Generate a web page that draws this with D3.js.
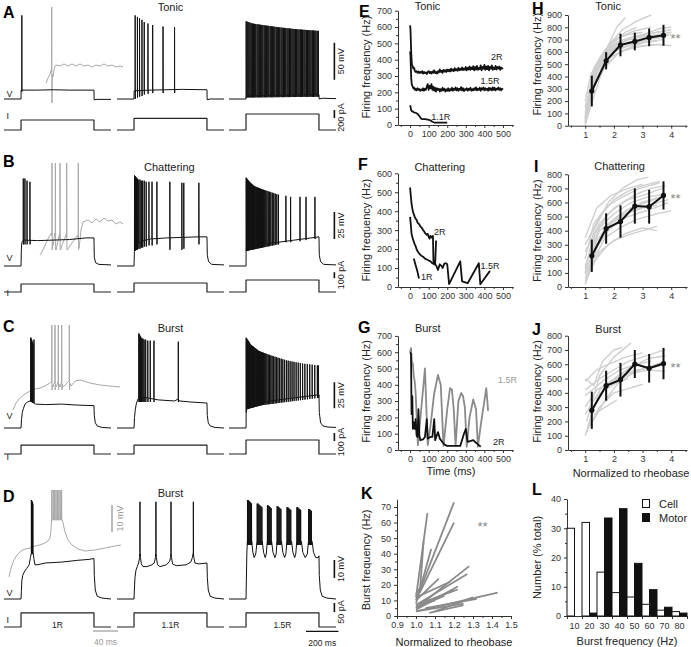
<!DOCTYPE html>
<html><head><meta charset="utf-8">
<script src="https://cdn.jsdelivr.net/npm/d3@7/dist/d3.min.js"></script>
<style>html,body{margin:0;padding:0;background:#fff}svg{display:block}</style>
</head><body>
<svg id="fig" width="691" height="647"></svg>
<script>
const FONT = '"Liberation Sans", Arial, Helvetica, sans-serif';

// ================= DATA =================
// --- sweeps (ms, mV, pA) ---
const sweepWindow = [-105, 555];
const stepWindow = [0, 450];
const sweepLeft = [4, 117, 229];
const stepLabels = ['1R', '1.1R', '1.5R'];

const tonicCurrent = [250, 290, 400];
const chatterCurrent = [133, 150, 200];
const burstCCurrent = [112, 112, 175];
const burstDCurrent = [78, 78, 78];

// Row A: tonic
const tonicPlat1 = [[-105,-70],[0,-70],[0.5,-58],[100,-58],[200,-57.5],[300,-58],[450,-58],[451,-71],[470,-70.5],[555,-70.5]];
const tonicSpk1 = [[5,43,-60]];
const tonicPlat2 = [[-105,-70],[0,-70],[0.5,-59],[100,-58],[300,-57],[450,-57.5],[451,-71],[470,-70],[555,-70]];
const tonicSpkT2 = [7,21,34,49,63,86,115,179,250];
const tonicSpkPk2 = [43,41,39,37,34,32,30,28,27];
const tonicSpkTr2 = [-70,-68,-67,-66,-64,-63,-62,-62,-62];
const tonicPlat3 = [[-105,-70],[0,-70],[0.5,-66],[450,-64],[451,-70],[470,-69],[555,-69.5]];
const tonicSpkT3 = [1,6,12,18,25,32,39,46,53,60,68,75,82,90,97,104,112,119,127,134,141,149,156,164,171,178,186,193,201,208,216,223,231,238,245,253,260,268,275,283,290,297,305,312,320,327,335,342,349,357,364,372,379,387,394,401,409,416,424,431,439,446];
const tonicPeakEnv3 = [[0,35],[40,32],[100,30],[200,27],[300,24.5],[450,22]];
const tonicTroughEnv3 = [[0,-68],[450,-67]];
const tonicInset = [[2,-78],[4,-73],[6,-69],[7.2,-65],[9,-72],[10,-65],[11,-61],[13,-60],[16,-61],[20,-59],[24,-61],[28,-59],[32,-61],[36,-59],[40,-61],[44,-60],[48,-62],[52,-60],[56,-61],[60,-59],[64,-61],[68,-60],[72,-62],[76,-61],[79,-62]];
const tonicInsetSpk = [[7.7,-2,-98]];

// Row B: chattering
const chatPlat1 = [[-105,-70],[0,-70],[2,-55],[5,-48],[15,-46],[100,-46.5],[200,-46],[300,-45.5],[400,-44],[450,-44],[452,-62],[460,-67],[480,-68.5],[555,-69]];
const chatSpk1 = [[14,11,-50],[24,11,-50],[37,9,-50],[55,8,-50]];
const chatPlat2 = [[-105,-70],[0,-70],[2,-58],[5,-52],[15,-50],[50,-47],[100,-45],[200,-44],[300,-43.5],[400,-43],[450,-43],[452,-60],[460,-66],[480,-68.5],[555,-69]];
const chatSpkT2 = [3,9,15,21,29,37,45,53,63,75,92,111,141,221,295,307,400];
const chatSpkPk2 = [14,13,12,11,10,10,9,9,9,8,8,8,8,8,7,7,7];
const chatSpkTr2 = [-56,-56,-55,-55,-54,-54,-53,-53,-52,-52,-51,-51,-50,-55,-55,-54,-50];
const chatPlat3 = [[-105,-70],[0,-70],[1,-52],[10,-55],[50,-52],[100,-50],[200,-48],[300,-46],[400,-44],[450,-43],[452,-60],[460,-66],[480,-68.5],[555,-69]];
const chatSpkT3 = [1,3.5,6,9,12,15,18,21,24,27,31,35,39,43,47,51,56,61,66,71,77,83,89,95,101,108,115,122,129,137,145,153,162,171,180,190,200];
const chatPeakEnv3 = [[0,12],[20,8],[50,4],[100,1],[200,-4]];
const chatTroughEnv3 = [[0,-56],[200,-50]];
const chatSpkLate3 = [[246,-5,-48],[275,-6,-48],[333,-6,-47],[370,-6,-46],[425,-6,-45]];
const chatInset = [[2,-95],[5,-90],[8,-83],[11,-77],[13.5,-73],[15,-86],[16,-78],[17,-73],[18,-90],[19.5,-83],[21.5,-74],[22.6,-90],[24,-85],[26,-80],[28.3,-74],[29.3,-90],[32,-86],[36,-80],[39.8,-75],[41,-88],[42,-80],[43,-70],[45,-62],[50,-60],[54,-63],[58,-59],[62,-62],[66,-58],[70,-61],[74,-60],[78,-64],[82,-62],[85,-64]];
const chatInsetSpk = [[14,-3,-90],[17.4,-3,-90],[22,-3,-90],[28.7,-3,-90],[40.3,-3,-90]];

// Row C: burst
const burstCPlat1 = [[-105,-70],[0,-70],[3,-62],[8,-55],[15,-51],[25,-47],[40,-45],[55,-44],[90,-47],[150,-47.5],[250,-47],[350,-48],[450,-48.5],[452,-58],[458,-65],[470,-68],[500,-69.5],[555,-70]];
const burstCSpk1 = [[60,17,-44],[63,16,-44],[66,15,-44],[70,13,-44],[74,11,-44],[80,15,-45]];
const burstCPlat2 = [[-105,-70],[0,-70],[3,-60],[8,-52],[15,-46],[25,-42],[40,-40],[80,-41],[150,-43],[250,-44],[273,-42],[280,-44],[350,-45],[450,-46],[452,-58],[458,-65],[470,-68],[500,-69.5],[555,-70]];
const burstCSpkT2 = [30,33,36,40,44,49,55,62,72,85,100,123,273];
const burstCSpkPk2 = [21,20,19,18,17,16,16,15,15,14,14,14,13];
const burstCPlat3 = [[-105,-70],[0,-70],[2,-55],[10,-48],[50,-47],[150,-44],[300,-41],[450,-38],[452,-55],[460,-65],[475,-68],[500,-69],[555,-69.5]];
const burstCSpkT3 = [1,4,7,10,13,16,19,22,26,30,34,38,42,46,51,56,61,66,71,77,83,89,95,101,108,115,122,129,137,145,153,161,170,179,188,197,207,217,227,238,249,260,272,284,296,309,322,335,349,363,378,393,408,424,440,447];
const burstCPeakEnv3 = [[0,17],[30,10],[80,4],[150,0],[250,-5],[350,-8],[450,-10]];
const burstCTroughEnv3 = [[0,-52],[100,-48],[250,-45],[450,-41]];
const burstCInset = [[3,-80],[6,-73],[10,-68],[15,-64],[20,-61],[25,-59],[30,-58],[35,-56],[40,-53],[41.5,-52],[43,-57],[44.5,-52],[46.5,-57],[48,-52],[50,-57],[51.5,-52],[53,-57],[56,-54],[59,-51],[61,-56],[65,-51],[70,-50],[80,-53],[90,-55],[100,-56],[110,-57]];
const burstCInsetSpk = [[41.8,5,-60],[45,5,-60],[48.3,5,-60],[51.7,5,-60],[59.3,5,-60]];

// Row D: burst (1R, 1.1R, 1.5R)
const burstDPlat1 = [[-105,-70],[0,-70],[2,-66],[5,-60],[10,-57],[20,-55],[35,-53],[50,-51],[58,-47],[62,-45],[76,-45],[80,-48],[86,-51],[100,-51],[150,-50],[250,-49.5],[350,-48.5],[420,-48],[450,-47.5],[452,-57],[458,-65],[470,-68.5],[500,-69.5],[555,-70]];
const burstDSpk1 = [[64,-15,-44],[67,-15.5,-44],[70,-16,-44],[73,-17,-45]];
const burstDPlat2 = [[-105,-70],[0,-70],[2,-65],[6,-58],[12,-54],[20,-52],[28,-50],[34,-47],[37,-44],[40,-47],[45,-50.5],[55,-52],[80,-52],[110,-51],[125,-50],[132,-47],[135,-44],[138,-47],[145,-51],[160,-52],[200,-51],[220,-49],[225,-47],[228,-44],[231,-47],[238,-50.5],[260,-51.5],[320,-51],[350,-49.5],[360,-47],[366,-44],[369,-47],[376,-50],[400,-50.5],[450,-50],[452,-58],[458,-65],[470,-68.5],[500,-69.5],[555,-70]];
const burstDSpk2 = [[36.7,-16,-46],[135,-16,-46],[228,-16,-46],[366,-16,-46]];
const burstDPlat3 = [[-105,-70],[0,-70],[2,-60],[5,-45],[8,-38],[35,-38],[42,-44],[50,-47],[60,-45],[68,-38],[100,-38],[108,-44],[118,-47],[125,-45],[131,-38],[158,-38],[166,-44],[178,-47],[186,-45],[191,-38],[219,-38],[227,-44],[238,-47],[246,-45],[252,-38],[281,-38],[289,-44],[300,-47],[307,-45],[313,-38],[342,-38],[350,-44],[365,-47],[378,-45],[385,-38],[408,-38],[416,-44],[430,-47],[445,-47],[450,-46],[452,-57],[458,-65],[470,-68.5],[500,-69.5],[555,-70]];
const burstDSpkT3 = [9,14,19,24,29,34,69,74,80,86,92,98,132,137,143,149,155,192,197,203,209,215,253,258,264,270,276,314,319,325,331,337,386,391,397,403];
const burstDSpkPk3 = [-15,-15,-15.5,-16,-16.5,-17,-17,-17,-17.5,-18,-18.5,-19,-18,-18,-18.5,-19,-19.5,-18.5,-18.5,-19,-19.5,-20,-19,-19,-19.5,-20,-20.5,-19,-19,-19.5,-20,-20.5,-20,-20,-20.5,-21];
const burstDInset = [[4,-87],[5,-82],[7,-75],[9,-70],[12,-65],[16,-61],[20,-59],[25,-58],[30,-56],[35,-55],[40,-53],[43,-51],[45,-48],[46,-40],[46.6,-30],[57.2,-30],[58,-33],[60,-42],[63,-50],[67,-55],[73,-59],[80,-61],[90,-60],[100,-58],[110,-56],[116,-55]];
const burstDInsetSpkT = [46.8,48.2,49.6,51,52.4,53.8,55.2,56.6];

// --- E/F/G: instantaneous firing frequency (ms, Hz) ---
const freqTonic2R = [[0,610],[2,590],[4,520],[6,450],[8,400],[10,370],[14,360],[18,345],[22,350],[26,330],[30,325],[35,330],[40,320],[45,328],[50,318],[55,325],[60,320],[65,330],[70,315],[75,325],[80,318],[85,322],[90,312],[95,325],[100,330],[105,318],[110,325],[115,315],[120,328],[125,320],[130,335],[135,318],[140,325],[145,315],[150,330],[155,322],[160,340],[165,325],[170,332],[175,320],[180,338],[185,328],[190,335],[195,325],[200,340],[205,330],[210,338],[215,328],[220,345],[225,332],[230,340],[235,330],[240,348],[245,335],[250,342],[255,332],[260,350],[265,335],[270,345],[275,338],[280,352],[285,336],[290,346],[295,338],[300,355],[305,335],[310,350],[315,340],[320,358],[325,338],[330,352],[335,342],[340,360],[345,335],[350,355],[355,340],[360,362],[365,338],[370,350],[375,342],[380,365],[385,335],[390,355],[395,345],[400,368],[405,338],[410,358],[415,342],[420,362],[425,335],[430,356],[435,345],[440,365],[445,338],[450,352],[455,342],[460,362],[465,340],[470,355],[475,345],[480,358],[485,338],[490,352],[495,345],[500,350]];
const freqTonic15R = [[0,450],[2,430],[4,360],[6,290],[8,260],[10,245],[14,235],[18,225],[22,228],[26,215],[30,222],[35,212],[40,225],[45,215],[50,220],[55,210],[60,218],[65,212],[70,225],[75,210],[80,222],[85,215],[90,235],[95,250],[100,215],[105,240],[110,225],[115,250],[120,215],[125,235],[130,210],[135,228],[140,205],[145,225],[150,215],[155,222],[160,205],[165,220],[170,210],[175,228],[180,212],[185,222],[190,205],[195,218],[200,210],[205,225],[210,208],[215,220],[220,212],[225,228],[230,210],[235,222],[240,215],[245,230],[250,212],[255,225],[260,210],[265,222],[270,215],[275,232],[280,212],[285,225],[290,208],[295,220],[300,215],[305,225],[310,210],[315,222],[320,215],[325,228],[330,210],[335,220],[340,212],[345,225],[350,215],[355,230],[360,212],[365,222],[370,215],[375,228],[380,210],[385,225],[390,218],[395,230],[400,212],[405,225],[410,215],[415,222],[420,210],[425,228],[430,215],[435,225],[440,212],[445,230],[450,215],[455,228],[460,212],[465,222],[470,218],[475,230],[480,215],[485,225],[490,212],[495,222],[500,218]];
const freqTonic11R = [[0,120],[3,110],[6,90],[10,85],[15,82],[20,78],[30,75],[40,68],[50,55],[55,45],[60,38],[70,36],[80,36],[90,35],[100,32],[110,28],[120,20],[130,15],[150,15],[175,15],[200,15]];
const freqChat2R = [[0,525],[4,480],[8,440],[12,415],[16,395],[20,385],[25,370],[30,360],[35,355],[40,340],[45,335],[50,330],[55,320],[60,315],[65,310],[70,300],[75,295],[80,285],[85,280],[90,275],[95,280],[100,265],[105,255],[110,270],[118,260],[123,270],[126,125],[135,120],[140,245]];
const freqChat15R = [[0,370],[4,330],[8,280],[12,265],[16,250],[20,240],[25,225],[30,215],[35,200],[40,190],[50,175],[60,165],[70,160],[80,150],[90,145],[100,140],[110,135],[120,125],[130,120],[140,115],[150,90],[160,120],[170,110],[175,100],[185,125],[195,125],[200,120],[210,15],[270,135],[280,30],[310,20],[370,125],[378,15],[430,85]];
const freqChat1R = [[20,150],[30,115],[40,80],[48,45]];
const freqBurst15R = [[0,600],[5,625],[10,540],[15,530],[20,450],[25,420],[30,350],[42,30],[60,250],[80,500],[95,30],[110,150],[130,350],[150,460],[160,420],[165,400],[180,25],[200,250],[215,380],[225,370],[235,250],[245,25],[260,300],[275,350],[285,330],[295,260],[305,20],[320,200],[340,310],[350,270],[355,250],[365,20],[380,150],[410,380],[420,240]];
const freqBurst2R = [[0,600],[5,590],[8,220],[12,330],[15,130],[20,170],[25,130],[30,190],[35,90],[40,80],[45,250],[50,90],[55,60],[70,65],[80,80],[90,190],[95,70],[110,80],[120,80],[130,190],[135,60],[150,110],[160,70],[180,40],[190,30],[200,25],[250,25],[270,25],[290,100],[300,130],[310,50],[340,60],[370,30],[380,20]];

// --- H/I/J: f-I relations (x normalized to rheobase, Hz) ---
const normLevels = [1.23, 1.73, 2.23, 2.73, 3.23, 3.73];
const tonicMean = [282, 528, 656, 685, 718, 735];
const tonicErr = [125, 70, 92, 72, 72, 85];
const chatMean = [222, 415, 465, 575, 570, 650];
const chatErr = [115, 108, 115, 125, 120, 100];
const burstMean = [278, 450, 492, 602, 572, 605];
const burstErr = [130, 105, 118, 98, 100, 110];
const tonicCells = [
 [[1.0,30],[1.2,300],[1.5,520],[2.0,650],[2.5,700],[3.0,720],[3.5,740],[4.0,760]],
 [[1.0,50],[1.3,400],[1.7,600],[2.1,800],[2.4,880]],
 [[1.05,100],[1.3,450],[1.8,650],[2.3,780],[2.8,850],[3.3,900]],
 [[1.0,20],[1.2,250],[1.6,500],[2.0,600],[2.6,660],[3.2,700],[3.8,720]],
 [[1.0,80],[1.4,450],[1.9,620],[2.5,700],[3.0,740],[3.6,790],[4.0,800]],
 [[1.0,150],[1.3,400],[1.8,580],[2.3,640],[2.9,670],[3.5,690]],
 [[1.0,60],[1.2,350],[1.5,550],[2.0,700],[2.5,740],[3.0,760]],
 [[1.1,120],[1.4,380],[1.9,560],[2.4,620],[3.0,650],[3.6,660],[4.0,650]],
 [[1.0,40],[1.3,320],[1.7,480],[2.2,600],[2.8,640],[3.4,660]],
 [[1.0,200],[1.2,420],[1.6,580],[2.1,680],[2.6,720],[3.2,750],[3.8,770]],
 [[1.05,90],[1.5,500],[2.0,620],[2.5,680],[3.0,700],[4.0,740]],
 [[1.0,100],[1.3,470],[1.7,620],[2.2,720],[2.7,770],[3.3,800]],
 [[1.0,10],[1.25,200],[1.6,450],[2.1,580],[2.6,640],[3.1,680],[3.7,700]],
 [[1.1,250],[1.5,540],[2.0,660],[2.5,700],[3.0,730],[3.5,760],[4.0,780]],
 [[1.0,70],[1.3,380],[1.6,560],[2.0,690],[2.4,760],[2.8,800]],
 [[1.02,130],[1.4,480],[1.8,600],[2.3,660],[2.9,690],[3.5,720],[3.9,740]]
];
const chatCells = [
 [[1.0,20],[1.3,200],[1.7,350],[2.2,420],[2.8,480],[3.5,520],[4.0,540]],
 [[1.0,100],[1.3,400],[1.8,600],[2.3,700],[2.8,760],[3.2,780]],
 [[1.0,300],[1.5,500],[2.0,620],[2.5,680],[3.0,720],[3.6,750]],
 [[1.05,50],[1.4,300],[1.9,450],[2.4,520],[3.0,560],[3.5,580]],
 [[1.0,150],[1.5,400],[2.0,480],[2.6,540],[3.2,580],[3.9,620]],
 [[1.1,80],[1.5,250],[2.0,330],[2.5,370],[3.0,400],[3.5,430]],
 [[1.0,200],[1.3,450],[1.8,580],[2.3,640],[2.9,700],[3.6,740]],
 [[1.0,60],[1.4,280],[1.8,400],[2.2,480],[2.8,520],[3.4,560],[3.9,600]],
 [[1.0,350],[1.4,560],[1.9,650],[2.5,700],[3.0,730]],
 [[1.1,120],[1.6,380],[2.1,500],[2.6,560],[3.1,600],[3.7,640]],
 [[1.0,40],[1.3,180],[1.8,300],[2.4,380],[3.0,420],[3.5,400]],
 [[1.0,250],[1.5,450],[2.0,560],[2.5,620],[3.0,650],[3.7,700]],
 [[1.05,180],[1.5,420],[2.0,520],[2.6,600],[3.2,640],[3.8,660]],
 [[1.0,90],[1.4,330],[1.9,460],[2.4,540],[3.0,600],[3.6,640]],
 [[1.0,130],[1.35,380],[1.8,520],[2.3,600],[2.8,660],[3.3,700],[3.8,720]]
];
const burstCells = [
 [[1.0,100],[1.3,300],[1.7,450],[2.2,520],[2.8,560],[3.4,580],[3.8,600]],
 [[1.0,500],[1.3,450],[1.6,620],[2.0,700],[2.3,720]],
 [[1.05,200],[1.5,520],[2.0,650],[2.6,750]],
 [[1.0,300],[1.4,420],[1.9,480],[2.4,520],[2.9,560],[3.5,600],[3.8,620]],
 [[1.1,150],[1.5,300],[2.0,400],[2.5,430],[3.0,460]],
 [[1.0,420],[1.5,500],[2.0,560],[2.5,620],[3.0,650],[3.6,690],[3.8,700]],
 [[1.2,180],[1.7,350],[2.2,480],[2.7,540],[3.2,560],[3.8,550]],
 [[1.0,250],[1.4,380],[2.0,460],[2.5,500]],
 [[1.3,250],[1.7,300],[2.1,350]],
 [[1.0,380],[1.6,480],[2.2,560],[2.8,600],[3.3,620]],
 [[1.05,120],[1.5,420],[2.0,500],[2.6,580],[3.2,640],[3.8,660]],
 [[1.0,480],[1.4,560],[1.8,600],[2.4,650],[3.0,680]]
];

// --- K: burst frequency vs normalized current (x1, Hz1, x2, Hz2) ---
const kSegments = [[1.00,12,1.06,66],[1.02,15,1.04,48],[1.00,10,1.20,73],[1.02,15,1.20,60],[1.00,8,1.08,43],[1.00,5,1.28,32],[1.00,7,1.27,27],[1.00,4,1.22,19],[1.00,3,1.43,15],[1.00,6,1.20,17],[1.05,5,1.32,11],[1.00,3,1.25,8],[1.10,3,1.30,12],[1.00,10,1.12,24],[1.00,12,1.18,22],[1.07,2,1.25,7],[1.00,5,1.15,13],[1.02,8,1.22,17],[1.00,14,1.03,20],[1.00,6,1.10,10]];

// --- L: burst frequency histogram (% total) ---
const burstBins = ['10','20','30','40','50','60','70','80'];
const cellPct = [30, 32, 15, 8, 6.5, 4, 2, 1.5];
const motorPct = [0, 1, 33.5, 36.7, 18, 9, 3, 1];

// ================= HELPERS =================
const svg = d3.select('#fig');
function lerp(pts, t) {
  if (t <= pts[0][0]) return pts[0][1];
  for (let i = 1; i < pts.length; i++) {
    if (t <= pts[i][0]) { const a = pts[i-1], b = pts[i]; return a[1] + (b[1]-a[1]) * (t-a[0]) / (b[0]-a[0]); }
  }
  return pts[pts.length-1][1];
}
function buildTrace(plat, spikes, k = 1) {
  const pts = plat.map(d => [d[0], d[1]]);
  spikes.forEach(([t, pk, tr]) => {
    pts.push([t-0.4*k, lerp(plat, t-0.4*k)], [t, pk], [t+0.6*k, tr], [t+1.4*k, lerp(plat, t+1.4*k)]);
  });
  pts.sort((a, b) => a[0] - b[0]);
  return pts;
}
function zipSpk(times, peaks, troughs) { return times.map((t, i) => [t, Array.isArray(peaks) ? peaks[i] : peaks, Array.isArray(troughs) ? troughs[i] : troughs]); }
function train(times, peakEnv, troughEnv) { return times.map(t => [t, lerp(peakEnv, t), lerp(troughEnv, t)]); }
function sweepX(i) { return d3.scaleLinear().domain(sweepWindow).range([sweepLeft[i], sweepLeft[i] + 107]); }
function drawPath(pts, xs, ys, color, w) {
  svg.append('path').datum(pts)
    .attr('d', d3.line().x(d => xs(d[0])).y(d => ys(d[1])))
    .attr('fill', 'none').attr('stroke', color).attr('stroke-width', w)
    .attr('stroke-linejoin', 'round').attr('stroke-linecap', 'butt');
}
function currentPts(I) { return [[sweepWindow[0],0],[stepWindow[0],0],[stepWindow[0],I],[stepWindow[1],I],[stepWindow[1],0],[sweepWindow[1],0]]; }
function text(x, y, s, o = {}) {
  const t = svg.append('text').attr('x', x).attr('y', y).text(s)
    .attr('font-family', FONT).attr('font-size', o.size || 9)
    .attr('fill', o.fill || '#222').attr('text-anchor', o.anchor || 'start')
    .attr('font-weight', o.weight || 'normal');
  if (o.rotate) t.attr('transform', `rotate(-90,${x},${y})`);
  return t;
}
function vbar(x, y1, y2, color) {
  svg.append('line').attr('x1', x).attr('x2', x).attr('y1', y1).attr('y2', y2).attr('stroke', color || '#111').attr('stroke-width', 1.6);
}
function hbar(x1, x2, y, color) {
  svg.append('line').attr('x1', x1).attr('x2', x2).attr('y1', y).attr('y2', y).attr('stroke', color || '#111').attr('stroke-width', 1.4);
}
function styleAxis(g) {
  g.attr('font-family', FONT).attr('font-size', 9);
  g.selectAll('text').attr('fill', '#333');
  g.selectAll('line').attr('stroke', '#333');
  g.selectAll('.domain').attr('stroke', '#333');
}
function axisY(scale, x, major, minor, fmt) {
  const g = svg.append('g').attr('transform', `translate(${x},0)`);
  g.call(d3.axisLeft(scale).tickValues(major).tickSize(3).tickSizeOuter(0).tickPadding(3).tickFormat(fmt || d3.format('d')));
  if (minor) { const m = g.append('g').call(d3.axisLeft(scale).tickValues(minor).tickSize(2).tickFormat('')); m.select('.domain').remove(); }
  styleAxis(g);
}
function axisX(scale, y, major, minor, fmt) {
  const g = svg.append('g').attr('transform', `translate(0,${y})`);
  g.call(d3.axisBottom(scale).tickValues(major).tickSize(3).tickSizeOuter(0).tickPadding(2.5).tickFormat(fmt || d3.format('d')));
  if (minor) { const m = g.append('g').call(d3.axisBottom(scale).tickValues(minor).tickSize(2).tickFormat('')); m.select('.domain').remove(); }
  styleAxis(g);
}

// ================= SWEEP ROWS (A-D) =================
const yA = d3.scaleLinear([-70, 50], [99, 10.2]);
const iA = d3.scaleLinear([0, 200], [130, 122]);
const yB = d3.scaleLinear([-70, 20], [266, 168.8]);
const iB = d3.scaleLinear([0, 100], [292, 286]);
const yC = d3.scaleLinear([-70, 30], [428, 324]);
const iC = d3.scaleLinear([0, 100], [454, 446]);
const yD = d3.scaleLinear([-70, -10], [599, 491]);
const iD = d3.scaleLinear([0, 50], [627, 618]);

const rows = [
  { y: yA, i: iA, cur: tonicCurrent, sweeps: [
      buildTrace(tonicPlat1, tonicSpk1),
      buildTrace(tonicPlat2, zipSpk(tonicSpkT2, tonicSpkPk2, tonicSpkTr2)),
      buildTrace(tonicPlat3, train(tonicSpkT3, tonicPeakEnv3, tonicTroughEnv3))] },
  { y: yB, i: iB, cur: chatterCurrent, sweeps: [
      buildTrace(chatPlat1, chatSpk1),
      buildTrace(chatPlat2, zipSpk(chatSpkT2, chatSpkPk2, chatSpkTr2)),
      buildTrace(chatPlat3, train(chatSpkT3, chatPeakEnv3, chatTroughEnv3).concat(chatSpkLate3))] },
  { y: yC, i: iC, cur: burstCCurrent, sweeps: [
      buildTrace(burstCPlat1, burstCSpk1),
      buildTrace(burstCPlat2, zipSpk(burstCSpkT2, burstCSpkPk2, -45)),
      buildTrace(burstCPlat3, train(burstCSpkT3, burstCPeakEnv3, burstCTroughEnv3))] },
  { y: yD, i: iD, cur: burstDCurrent, sweeps: [
      buildTrace(burstDPlat1, burstDSpk1),
      buildTrace(burstDPlat2, burstDSpk2),
      buildTrace(burstDPlat3, zipSpk(burstDSpkT3, burstDSpkPk3, -40))] }
];

// gray insets (magnified spikes)
const GRAY = '#a9a9a9';
const insA = { x: d3.scaleLinear([0, 80], [44, 124]), y: d3.scaleLinear([-98, 0], [103, 5]) };
const insB = { x: d3.scaleLinear([0, 86], [38, 124]), y: d3.scaleLinear([-95, 0], [255, 160]) };
const insC = { x: d3.scaleLinear([0, 110], [10, 120]), y: d3.scaleLinear([-100, 0], [430, 330]) };
const insD = { x: d3.scaleLinear([0, 116], [5, 121]), y: d3.scaleLinear([-100, 0], [590, 490]) };
drawPath(buildTrace(tonicInset, tonicInsetSpk, 0.4), insA.x, insA.y, GRAY, 1);
drawPath(buildTrace(chatInset, chatInsetSpk, 0.4), insB.x, insB.y, GRAY, 1);
drawPath(buildTrace(burstCInset, burstCInsetSpk, 0.4), insC.x, insC.y, GRAY, 1);
drawPath(buildTrace(burstDInset, zipSpk(burstDInsetSpkT, 0, -30), 0.4), insD.x, insD.y, GRAY, 1);

rows.forEach(r => {
  r.sweeps.forEach((pts, k) => {
    const xs = sweepX(k);
    drawPath(pts, xs, r.y, '#111', 1);
    drawPath(currentPts(r.cur[k]), xs, r.i, '#222', 1.2);
  });
});

// labels V / I
const xs0 = sweepX(0), xs1 = sweepX(1), xs2 = sweepX(2);
[[yA, iA, -67.3, 275], [yB, iB, -65, -70], [yC, iC, -61, -80], [yD, iD, -68.5, 25]].forEach(([ys, is, vv, ii]) => {
  text(xs0(-90), ys(vv), 'V', { size: 9 });
  text(xs0(-90), is(ii), 'I', { size: 9 });
});

// scale bars
const xBar = xs2(545), xBarT = xs2(604);
vbar(xBar, yA(-44), yA(6)); vbar(xBar, iA(300), iA(500));
text(xBarT, yA(-19), '50 mV', { rotate: true, anchor: 'middle' });
text(xBarT, iA(310), '200 pA', { rotate: true, anchor: 'middle' });
vbar(xBar, yB(-45), yB(-20)); vbar(xBar, iB(230), iB(330));
text(xBarT, yB(-32.5), '25 mV', { rotate: true, anchor: 'middle' });
text(xBarT, iB(283), '100 pA', { rotate: true, anchor: 'middle' });
vbar(xBar, yC(-51), yC(-26)); vbar(xBar, iC(162), iC(262));
text(xBarT, yC(-38.5), '25 mV', { rotate: true, anchor: 'middle' });
text(xBarT, iC(150), '100 pA', { rotate: true, anchor: 'middle' });
vbar(xBar, yD(-58.3), yD(-48.3)); vbar(xBar, iD(83), iD(133));
text(xBarT, yD(-53.3), '10 mV', { rotate: true, anchor: 'middle' });
text(xBarT, iD(83), '50 pA', { rotate: true, anchor: 'middle' });
// gray inset bars (D)
vbar(insD.x(107), insD.y(-15), insD.y(-42), GRAY);
text(insD.x(118), insD.y(-28.5), '10 mV', { rotate: true, anchor: 'middle', fill: '#999' });
hbar(insD.x(88), insD.x(113), insD.y(-141), GRAY);
text(insD.x(100.5), insD.y(-155), '40 ms', { anchor: 'middle', fill: '#999', size: 8.5 });
hbar(xs2(370), xs2(570), yD(-88), '#111');
text(xs2(470), yD(-96), '200 ms', { anchor: 'middle', size: 8.5 });
// step labels
[xs0, xs1, xs2].forEach((xs, k) => text(xs(225), iD(-6), stepLabels[k], { anchor: 'middle', size: 8.5 }));

// row titles & letters
text(xs1(225), 11, 'Tonic', { anchor: 'middle', size: 11 });
text(xs1(218), 171, 'Chattering', { anchor: 'middle', size: 11 });
text(xs1(225), 332, 'Burst', { anchor: 'middle', size: 11 });
text(xs1(225), 497, 'Burst', { anchor: 'middle', size: 11 });
[['A',3,18],['B',3,167],['C',3,332],['D',3,502],['E',359,17],['F',358,170],['G',358,333],['K',361,499],['H',532,14],['I',534,172],['J',532,335],['L',532,495]]
  .forEach(([s, x, y]) => text(x, y, s, { size: 16, weight: 'bold', fill: '#000' }));

// ================= E / F / G =================
const xTime = d3.scaleLinear([-65, 555], [398, 513.2]);
const yE = d3.scaleLinear([0, 700], [125, 10.7]);
const yF = d3.scaleLinear([0, 600], [287, 173.3]);
const yG = d3.scaleLinear([0, 700], [450, 335.9]);
const timeMinor = [-50, 50, 150, 250, 350, 450, 550];
[[yE, 125, 700], [yF, 287, 600], [yG, 450, 700]].forEach(([ys, y0, top]) => {
  axisY(ys, 398, d3.range(0, top + 1, 100), d3.range(50, top, 100));
  axisX(xTime, y0, d3.range(0, 501, 100), timeMinor);
});
const fLine = (data, ys, color) => drawPath(data, xTime, ys, color, 1.8);
fLine(freqTonic11R, yE, '#111'); fLine(freqTonic15R, yE, '#111'); fLine(freqTonic2R, yE, '#111');
fLine(freqChat1R, yF, '#111'); fLine(freqChat15R, yF, '#111'); fLine(freqChat2R, yF, '#111');
fLine(freqBurst15R, yG, '#8a8a8a'); fLine(freqBurst2R, yG, '#111');
text(xTime(466), yE(400), '2R', { anchor: 'middle' });
text(xTime(430), yE(251), '1.5R', { anchor: 'middle' });
text(xTime(165), yE(30), '1.1R', { anchor: 'middle' });
text(xTime(160), yF(274), '2R', { anchor: 'middle' });
text(xTime(430), yF(95), '1.5R', { anchor: 'middle' });
text(xTime(90), yF(37), '1R', { anchor: 'middle' });
text(xTime(525), yG(411), '1.5R', { anchor: 'middle', fill: '#999' });
text(xTime(477), yG(31), '2R', { anchor: 'middle' });
text(xTime(94), 10, 'Tonic', { anchor: 'middle', size: 11 });
text(xTime(160), 171, 'Chattering', { anchor: 'middle', size: 11 });
text(xTime(95), 332, 'Burst', { anchor: 'middle', size: 11 });
text(xTime(220), 475, 'Time (ms)', { anchor: 'middle', size: 11 });
text(370, yE(355), 'Firing frequency (Hz)', { rotate: true, anchor: 'middle', size: 11 });
text(370, yF(300), 'Firing frequency (Hz)', { rotate: true, anchor: 'middle', size: 11 });
text(370, yG(360), 'Firing frequency (Hz)', { rotate: true, anchor: 'middle', size: 11 });

// ================= H / I / J =================
const xNorm = d3.scaleLinear([0.4, 4.55], [568, 687]);
const yH = d3.scaleLinear([0, 900], [125.7, 15]);
const yI = d3.scaleLinear([0, 800], [287, 174.3]);
const yJ = d3.scaleLinear([0, 800], [450, 335.7]);
function fiPanel(ys, y0, top, cells, mean, err) {
  axisY(ys, 568, d3.range(0, top + 1, 100), null);
  axisX(xNorm, y0, [1, 2, 3, 4], [0.5, 1.5, 2.5, 3.5, 4.5]);
  cells.forEach(c => drawPath(c, xNorm, ys, '#cfcfcf', 1.4));
  normLevels.forEach((x, k) => {
    svg.append('line').attr('x1', xNorm(x)).attr('x2', xNorm(x))
      .attr('y1', ys(mean[k] - err[k])).attr('y2', ys(mean[k] + err[k]))
      .attr('stroke', '#111').attr('stroke-width', 2);
  });
  drawPath(normLevels.map((x, k) => [x, mean[k]]), xNorm, ys, '#111', 2);
  normLevels.forEach((x, k) => svg.append('circle').attr('cx', xNorm(x)).attr('cy', ys(mean[k])).attr('r', 2.6).attr('fill', '#111'));
  text(xNorm(4.15), ys(mean[5]) + 8, '**', { anchor: 'middle', size: 13, fill: '#888' });
}
fiPanel(yH, 125.7, 900, tonicCells, tonicMean, tonicErr);
fiPanel(yI, 287, 800, chatCells, chatMean, chatErr);
fiPanel(yJ, 450, 800, burstCells, burstMean, burstErr);
text(xNorm(1.8), 10, 'Tonic', { anchor: 'middle', size: 11 });
text(xNorm(2.2), 170, 'Chattering', { anchor: 'middle', size: 11 });
text(xNorm(1.8), 333, 'Burst', { anchor: 'middle', size: 11 });
text(xNorm(2.6), 477, 'Normalized to rheobase', { anchor: 'middle', size: 11 });
text(541, yH(500), 'Firing frequency (Hz)', { rotate: true, anchor: 'middle', size: 11 });
text(541, yI(400), 'Firing frequency (Hz)', { rotate: true, anchor: 'middle', size: 11 });
text(541, yJ(410), 'Firing frequency (Hz)', { rotate: true, anchor: 'middle', size: 11 });

// ================= K =================
const xK = d3.scaleLinear([0.9, 1.5], [397, 511]);
const yK = d3.scaleLinear([0, 75], [616, 499.2]);
axisY(yK, 397, d3.range(0, 71, 10), d3.range(5, 75, 10));
axisX(xK, 616, [0.9, 1.0, 1.1, 1.2, 1.3, 1.4, 1.5], [0.95, 1.05, 1.15, 1.25, 1.35, 1.45], d3.format('.1f'));
kSegments.forEach(s => drawPath([[s[0], s[1]], [s[2], s[3]]], xK, yK, '#8a8a8a', 1.8));
text(xK(1.35), yK(60) + 8, '**', { anchor: 'middle', size: 13, fill: '#888' });
text(xK(1.2), 646, 'Normalized to rheobase', { anchor: 'middle', size: 11 });
text(370, yK(36), 'Burst frequency (Hz)', { rotate: true, anchor: 'middle', size: 11 });

// ================= L =================
const xL = d3.scaleBand().domain(burstBins).range([567, 687]).padding(0);
const xLb = d3.scaleLinear([5, 85], [567, 687]);
const yL = d3.scaleLinear([0, 40], [616, 499]);
axisY(yL, 567, d3.range(0, 41, 10), d3.range(5, 40, 10));
{
  const g = svg.append('g').attr('transform', 'translate(0,616)');
  g.call(d3.axisBottom(xLb).tickValues(d3.range(5, 86, 10)).tickSize(3).tickSizeOuter(0).tickFormat(''));
  const g2 = svg.append('g').attr('transform', 'translate(0,616)');
  g2.call(d3.axisBottom(xL).tickSize(0).tickPadding(7));
  g2.select('.domain').remove();
  styleAxis(g); styleAxis(g2);
}
const bw = xL.bandwidth() / 2;
burstBins.forEach((b, k) => {
  if (cellPct[k] > 0) svg.append('rect').attr('x', xL(b)).attr('y', yL(cellPct[k])).attr('width', bw).attr('height', yL(0) - yL(cellPct[k]))
    .attr('fill', '#fff').attr('stroke', '#111').attr('stroke-width', 1);
  if (motorPct[k] > 0) svg.append('rect').attr('x', xL(b) + bw).attr('y', yL(motorPct[k])).attr('width', bw).attr('height', yL(0) - yL(motorPct[k]))
    .attr('fill', '#111').attr('stroke', '#111').attr('stroke-width', 1);
});
svg.append('rect').attr('x', 642.5).attr('y', 499.5).attr('width', 7).attr('height', 8).attr('fill', '#fff').attr('stroke', '#111');
svg.append('rect').attr('x', 642.5).attr('y', 513.5).attr('width', 7).attr('height', 8).attr('fill', '#111').attr('stroke', '#111');
text(659, 507.5, 'Cell', { size: 11 });
text(659, 521.5, 'Motor', { size: 11 });
text(xLb(45), 645, 'Burst frequency (Hz)', { anchor: 'middle', size: 11 });
text(541, yL(20), 'Number (% total)', { rotate: true, anchor: 'middle', size: 11 });
</script>
</body></html>
